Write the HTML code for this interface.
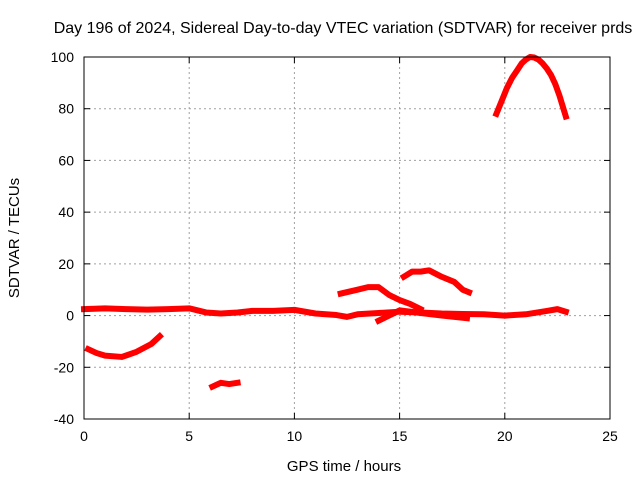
<!DOCTYPE html>
<html><head><meta charset="utf-8"><style>
body{margin:0;background:#fff;}
svg{display:block;font-family:"Liberation Sans",sans-serif;}
</style></head><body>
<svg id="chart" width="640" height="480">
<text x="343" y="33" font-size="16" text-anchor="middle" fill="#000">Day 196 of 2024, Sidereal Day-to-day VTEC variation (SDTVAR) for receiver prds</text>
<text x="344" y="471" font-size="15" text-anchor="middle">GPS time / hours</text>
<text transform="translate(19,238) rotate(-90)" font-size="15" text-anchor="middle">SDTVAR / TECUs</text>
<g id="grid"></g><g id="ticks"></g><g id="series"></g>
<rect x="84" y="57" width="526" height="362" fill="none" stroke="#000" stroke-width="1"/>
</svg>
<script>
const xTicks=[0,5,10,15,20,25];
const yTicks=[-40,-20,0,20,40,60,80,100];
const baseline=[[0,2.5],[1,2.8],[2,2.5],[3,2.3],[4,2.5],[5,2.8],[5.8,1.2],[6.5,0.8],[7.3,1.2],[8,1.8],[9,1.8],[10,2.2],[11,0.8],[12,0.2],[12.5,-0.5],[13,0.5],[14,1],[15,1.5],[16,1.2],[17,0.8],[18,0.6],[19,0.5],[20,0],[21,0.5],[22,1.8],[22.5,2.5],[22.9,1.5]];
const negCurve=[[0.2,-13],[0.6,-14.5],[1,-15.5],[1.8,-16],[2.5,-14],[3.2,-11],[3.6,-8]];
const smallSeg=[[6.1,-27.5],[6.5,-26],[6.9,-26.5],[7.3,-26]];
const hump=[[12.2,8.5],[13,10],[13.5,11],[14,11],[14.5,8],[15,6],[15.5,4.5],[16,2.5]];
const peak=[[15.2,15],[15.6,17],[16,17],[16.4,17.5],[17,15],[17.6,13],[18,10],[18.3,9]];
const secondBase=[[14,-2],[14.5,0],[15,2],[16,1],[17,0],[18.2,-1]];
const arc=[[19.6,78],[19.85,83],[20.1,88],[20.35,92],[20.6,95],[20.8,97.5],[21,99],[21.2,100],[21.4,99.8],[21.6,99],[21.8,97.5],[22,95.5],[22.2,93],[22.4,89.5],[22.6,85],[22.75,81],[22.9,77]];
const allSeries=[baseline,negCurve,smallSeg,hump,peak,secondBase,arc];
const seriesNames=['baseline','negative-curve','small-segment','hump','peak','second-baseline','arc'];
const X0=84,X1=610,Y0=419,Y1=57;
const sx=v=>X0+(v-0)/(25-0)*(X1-X0);
const sy=v=>Y0-(v+40)/(140)*(Y0-Y1);
const NS='http://www.w3.org/2000/svg';
function mk(t,a,p){const e=document.createElementNS(NS,t);for(const k in a)e.setAttribute(k,a[k]);p.appendChild(e);return e;}
const grid=document.getElementById('grid'),ticks=document.getElementById('ticks'),ser=document.getElementById('series');
xTicks.forEach(t=>{const x=sx(t);
 if(t>0&&t<25){const l=mk('line',{x1:x,x2:x,y1:Y1,y2:Y0,stroke:'#a0a0a0','stroke-dasharray':'2,3'},grid);
 
 }
 mk('line',{x1:x,x2:x,y1:Y0,y2:Y0-6,stroke:'#000'},ticks);
 mk('line',{x1:x,x2:x,y1:Y1,y2:Y1+6,stroke:'#000'},ticks);
 const tx=mk('text',{x:x,y:Y0+22,'font-size':14,'text-anchor':'middle'},ticks);tx.textContent=t;
 
 });
yTicks.forEach(t=>{const y=sy(t);
 if(t>-40&&t<100){const l=mk('line',{x1:X0,x2:X1,y1:y,y2:y,stroke:'#a0a0a0','stroke-dasharray':'2,3'},grid);
 
 }
 mk('line',{x1:X0,x2:X0+6,y1:y,y2:y,stroke:'#000'},ticks);
 mk('line',{x1:X1,x2:X1-6,y1:y,y2:y,stroke:'#000'},ticks);
 const tx=mk('text',{x:X0-10,y:y+5,'font-size':14,'text-anchor':'end'},ticks);tx.textContent=t;
 
 });
allSeries.forEach((s,i)=>{
 const p=mk('polyline',{points:s.map(d=>sx(d[0])+','+sy(d[1])).join(' '),fill:'none',stroke:'#ff0000','stroke-width':6,'stroke-linejoin':'round','stroke-linecap':'square'},ser);
 
 
});
</script>
</body></html>
